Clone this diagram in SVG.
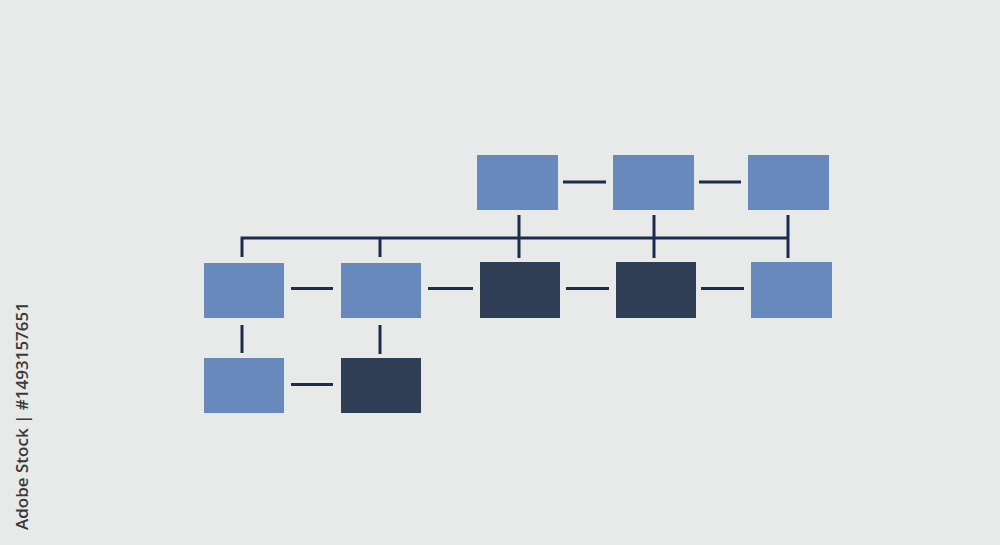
<svg xmlns="http://www.w3.org/2000/svg" width="1000" height="545" viewBox="0 0 1000 545">
<style>
.l{fill:#6789bb}
.d{fill:#2f3d55}
.c{stroke:#1d2c4c;stroke-width:3;fill:none}
.wm{font-family:"Open Sans","DejaVu Sans",sans-serif;font-size:17px;font-weight:600;fill:#3a3a3a}
</style>
<rect width="1000" height="545" fill="#e8e9e9"/>
<g id="connectors" class="c">
<path d="M563 182H606M699 182H741"/>
<path d="M519 215V258M654 215V258M788 215V258"/>
<path d="M242 257V238H788M380 238V257"/>
<path d="M291 288.5H333M428 288.5H473M566 288.5H609M701 288.5H744"/>
<path d="M242 325V353M380 325V354"/>
<path d="M291 384.5H333"/>
</g>
<g id="n1"><rect class="l" x="477" y="155" width="81" height="55"/></g>
<g id="n2"><rect class="l" x="613" y="155" width="81" height="55"/></g>
<g id="n3"><rect class="l" x="748" y="155" width="81" height="55"/></g>
<g id="n4"><rect class="l" x="204" y="263" width="80" height="55"/></g>
<g id="n5"><rect class="l" x="341" y="263" width="80" height="55"/></g>
<g id="n6"><rect class="d" x="480" y="262" width="80" height="56"/></g>
<g id="n7"><rect class="d" x="616" y="262" width="80" height="56"/></g>
<g id="n8"><rect class="l" x="751" y="262" width="81" height="56"/></g>
<g id="n9"><rect class="l" x="204" y="358" width="80" height="55"/></g>
<g id="n10"><rect class="d" x="341" y="358" width="80" height="55"/></g>
<text class="wm" transform="translate(28 530) rotate(-90)">Adobe Stock | #1493157651</text>
</svg>
